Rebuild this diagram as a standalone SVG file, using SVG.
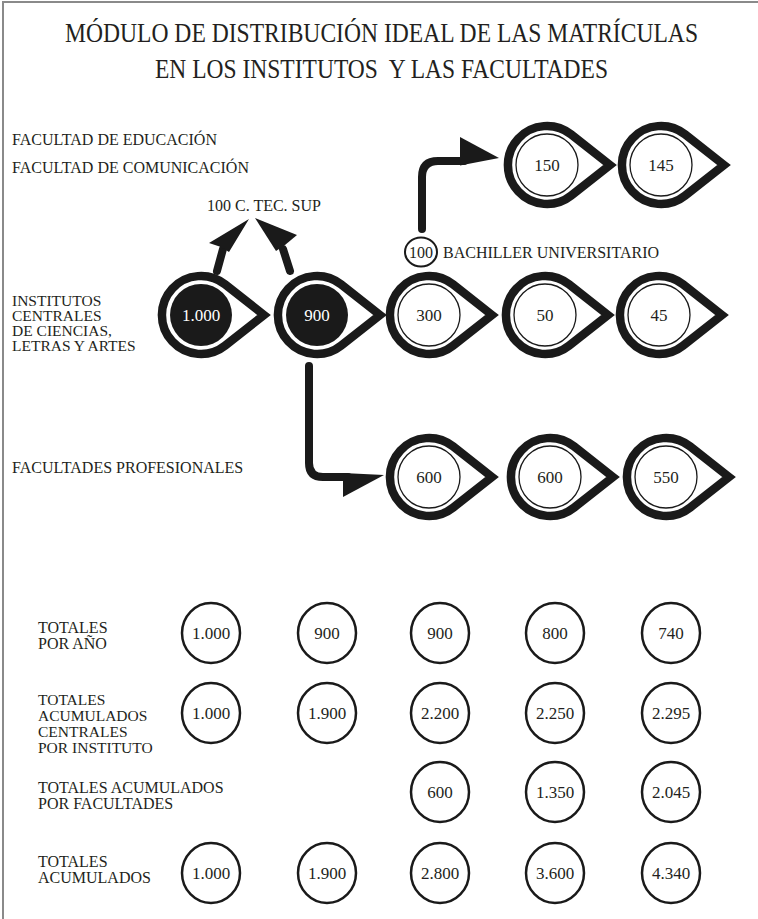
<svg xmlns="http://www.w3.org/2000/svg" width="758" height="919" viewBox="0 0 758 919">
<style>
  text { font-family: 'Liberation Serif', 'Times New Roman', serif; fill: #231f20; }
  .title { font-size: 27px; }
  .lbl { font-size: 16px; }
  .sm { font-size: 15.5px; }
  .num { font-size: 17px; text-anchor: middle; }
  .wnum { font-size: 17px; text-anchor: middle; fill: #ffffff; }
  .drop { fill: #ffffff; stroke: #1a1a1a; stroke-width: 8.5; stroke-linejoin: miter; stroke-miterlimit: 10; }
  .inner { fill: none; stroke: #1a1a1a; stroke-width: 1.3; }
  .dark { fill: #1a1a1a; stroke: none; }
  .tot { fill: #ffffff; stroke: #1a1a1a; stroke-width: 2.5; }
  .conn { fill: none; stroke: #1a1a1a; stroke-width: 8; stroke-linecap: round; }
  .head { fill: #1a1a1a; stroke: none; }
  .frame { stroke: #8a8a8a; stroke-width: 2; fill: none; }
</style>
<defs>
  <path id="drop" d="M63,0 L24.1,-30.6 A39,39 0 1 0 24.1,30.6 Z"/>
</defs>
<rect width="758" height="919" fill="#ffffff"/>
<path class="frame" d="M3,919 V2 H758"/>

<g id="title">
  <text class="title" x="65" y="42" textLength="633" lengthAdjust="spacingAndGlyphs">MÓDULO DE DISTRIBUCIÓN IDEAL DE LAS MATRÍCULAS</text>
  <text class="title" x="155" y="78" textLength="453" lengthAdjust="spacingAndGlyphs" xml:space="preserve">EN LOS INSTITUTOS  Y LAS FACULTADES</text>
</g>

<g id="labels">
  <text class="lbl" x="12" y="145">FACULTAD DE EDUCACIÓN</text>
  <text class="lbl" x="12" y="173">FACULTAD DE COMUNICACIÓN</text>
  <text class="lbl" x="207" y="211">100 C. TEC. SUP</text>
  <text class="sm" x="12" y="306">INSTITUTOS</text>
  <text class="sm" x="12" y="321">CENTRALES</text>
  <text class="sm" x="12" y="336">DE CIENCIAS,</text>
  <text class="sm" x="12" y="351">LETRAS Y ARTES</text>
  <text class="lbl" x="12" y="473">FACULTADES PROFESIONALES</text>
</g>

<g id="connectors">
  <line class="conn" x1="217" y1="271" x2="223" y2="249" stroke-width="7"/>
  <polygon class="head" points="249,219 209,243 221,247 229,252"/>
  <line class="conn" x1="290" y1="271" x2="283" y2="249" stroke-width="7"/>
  <polygon class="head" points="255,218 297,235 285,245 276,251"/>
  <path class="conn" d="M422,229 V177 Q422,161 438,161 H464"/>
  <polygon class="head" points="460,137 499,158 460,165.5"/>
  <path class="conn" d="M309,366 V463 Q309,477 323,477 H348"/>
  <polygon class="head" points="343,473 384,475 343,497"/>
</g>

<g id="node-bachiller">
  <ellipse cx="421" cy="252" rx="16" ry="14.5" fill="#ffffff" stroke="#1a1a1a" stroke-width="2"/>
  <text class="lbl" x="421" y="258" text-anchor="middle">100</text>
  <text class="lbl" x="443" y="258">BACHILLER UNIVERSITARIO</text>
</g>

<g id="node-1000">
  <use href="#drop" class="drop" transform="translate(201,315)"/>
  <circle class="dark" cx="201" cy="315" r="31"/>
  <text class="wnum" x="201" y="321">1.000</text>
</g>
<g id="node-900">
  <use href="#drop" class="drop" transform="translate(317,315)"/>
  <circle class="dark" cx="317" cy="315" r="31"/>
  <text class="wnum" x="317" y="321">900</text>
</g>
<g id="node-300">
  <use href="#drop" class="drop" transform="translate(429,315)"/>
  <circle class="inner" cx="429" cy="315" r="31"/>
  <text class="num" x="429" y="321">300</text>
</g>
<g id="node-50">
  <use href="#drop" class="drop" transform="translate(545,315)"/>
  <circle class="inner" cx="545" cy="315" r="31"/>
  <text class="num" x="545" y="321">50</text>
</g>
<g id="node-45">
  <use href="#drop" class="drop" transform="translate(659,315)"/>
  <circle class="inner" cx="659" cy="315" r="31"/>
  <text class="num" x="659" y="321">45</text>
</g>
<g id="node-150">
  <use href="#drop" class="drop" transform="translate(547,165)"/>
  <circle class="inner" cx="547" cy="165" r="31"/>
  <text class="num" x="547" y="171">150</text>
</g>
<g id="node-145">
  <use href="#drop" class="drop" transform="translate(661,165)"/>
  <circle class="inner" cx="661" cy="165" r="31"/>
  <text class="num" x="661" y="171">145</text>
</g>
<g id="node-600a">
  <use href="#drop" class="drop" transform="translate(429,477)"/>
  <circle class="inner" cx="429" cy="477" r="31"/>
  <text class="num" x="429" y="483">600</text>
</g>
<g id="node-600b">
  <use href="#drop" class="drop" transform="translate(550,477)"/>
  <circle class="inner" cx="550" cy="477" r="31"/>
  <text class="num" x="550" y="483">600</text>
</g>
<g id="node-550">
  <use href="#drop" class="drop" transform="translate(666,477)"/>
  <circle class="inner" cx="666" cy="477" r="31"/>
  <text class="num" x="666" y="483">550</text>
</g>

<g id="totales-por-ano">
  <text class="lbl" x="38" y="633">TOTALES</text>
  <text class="lbl" x="38" y="649">POR AÑO</text>
  <ellipse class="tot" cx="211" cy="633" rx="29" ry="30"/><text class="num" x="211" y="639">1.000</text>
  <ellipse class="tot" cx="327" cy="633" rx="29" ry="30"/><text class="num" x="327" y="639">900</text>
  <ellipse class="tot" cx="440" cy="633" rx="29" ry="30"/><text class="num" x="440" y="639">900</text>
  <ellipse class="tot" cx="555" cy="633" rx="29" ry="30"/><text class="num" x="555" y="639">800</text>
  <ellipse class="tot" cx="671" cy="633" rx="29" ry="30"/><text class="num" x="671" y="639">740</text>
</g>

<g id="totales-centrales">
  <text class="sm" x="38" y="705">TOTALES</text>
  <text class="sm" x="38" y="721">ACUMULADOS</text>
  <text class="sm" x="38" y="737">CENTRALES</text>
  <text class="sm" x="38" y="753">POR INSTITUTO</text>
  <ellipse class="tot" cx="211" cy="713" rx="29" ry="30"/><text class="num" x="211" y="719">1.000</text>
  <ellipse class="tot" cx="327" cy="713" rx="29" ry="30"/><text class="num" x="327" y="719">1.900</text>
  <ellipse class="tot" cx="440" cy="713" rx="29" ry="30"/><text class="num" x="440" y="719">2.200</text>
  <ellipse class="tot" cx="555" cy="713" rx="29" ry="30"/><text class="num" x="555" y="719">2.250</text>
  <ellipse class="tot" cx="671" cy="713" rx="29" ry="30"/><text class="num" x="671" y="719">2.295</text>
</g>

<g id="totales-facultades">
  <text class="lbl" x="38" y="793">TOTALES ACUMULADOS</text>
  <text class="lbl" x="38" y="809">POR FACULTADES</text>
  <ellipse class="tot" cx="440" cy="792" rx="29" ry="30"/><text class="num" x="440" y="798">600</text>
  <ellipse class="tot" cx="555" cy="792" rx="29" ry="30"/><text class="num" x="555" y="798">1.350</text>
  <ellipse class="tot" cx="671" cy="792" rx="29" ry="30"/><text class="num" x="671" y="798">2.045</text>
</g>

<g id="totales-acumulados">
  <text class="lbl" x="38" y="867">TOTALES</text>
  <text class="lbl" x="38" y="883">ACUMULADOS</text>
  <ellipse class="tot" cx="211" cy="873" rx="29" ry="30"/><text class="num" x="211" y="879">1.000</text>
  <ellipse class="tot" cx="327" cy="873" rx="29" ry="30"/><text class="num" x="327" y="879">1.900</text>
  <ellipse class="tot" cx="440" cy="873" rx="29" ry="30"/><text class="num" x="440" y="879">2.800</text>
  <ellipse class="tot" cx="555" cy="873" rx="29" ry="30"/><text class="num" x="555" y="879">3.600</text>
  <ellipse class="tot" cx="671" cy="873" rx="29" ry="30"/><text class="num" x="671" y="879">4.340</text>
</g>
</svg>
